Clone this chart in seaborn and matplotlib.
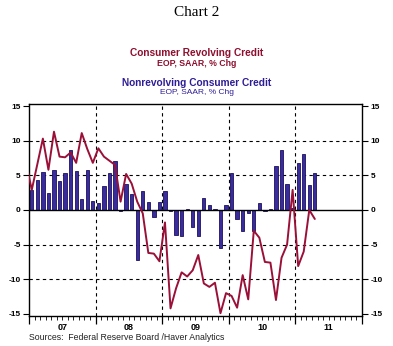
import numpy as np
import pandas as pd
import matplotlib
matplotlib.use("Agg")
import matplotlib.pyplot as plt
import matplotlib.transforms as mtransforms
import seaborn as sns

# Monthly data, Jan 2007 - Apr 2011 (bars) and Dec 2006 - Apr 2011 (line)
nonrevolving = [
    2.9, 4.3, 5.5, 2.4, 5.7, 4.2, 5.3, 8.6, 5.6, 1.6, 5.7, 1.3,       # 2007
    1.0, 3.5, 5.4, 7.0, -0.2, 3.8, 2.3, -7.2, 2.7, 1.1, -1.0, 1.1,    # 2008
    2.7, -0.2, -3.6, -3.8, 0.1, -2.5, -3.8, 1.7, 0.7, 0.1, -5.5, 0.7, # 2009
    5.4, -1.3, -3.0, -0.4, -3.0, 1.0, -0.2, 0.2, 6.3, 8.6, 3.8, 0.3,  # 2010
    6.8, 8.1, 3.6, 5.4,                                               # 2011
]
revolving = [
    6.7,                                                                 # Dec 2006
    2.9, 6.6, 10.3, 5.8, 11.3, 7.7, 7.6, 8.3, 6.8, 11.1, 8.8, 6.8,       # 2007
    8.9, 7.7, 7.1, 6.5, 1.2, 5.2, 3.8, 1.2, -0.5, -6.2, -6.3, -7.4,      # 2008
    -1.8, -14.2, -11.3, -9.0, -9.6, -8.7, -6.5, -10.6, -11.1, -10.5, -14.9, -12.0,  # 2009
    -12.4, -14.1, -9.4, -12.9, -3.0, -4.0, -7.5, -7.6, -13.0, -6.9, -5.0, 2.9,      # 2010
    -8.1, -6.0, 0.0, -1.3,                                               # 2011
]
year_labels = ["07", "08", "09", "10", "11"]
y_ticks = [-15, -10, -5, 0, 5, 10, 15]

RED = "#9A1038"
BLUE = "#3A2C9C"
BLUE_TXT = "#2E1E96"

# x positions: months since Jan 2007, plotted at the middle of each month
bar_df = pd.DataFrame({"x": np.arange(len(nonrevolving)) + 0.5, "v": nonrevolving})
line_df = pd.DataFrame({"x": np.arange(len(revolving)) - 0.5, "v": revolving})

sns.set_theme(style="white")
plt.rcParams["font.family"] = ["Liberation Sans", "DejaVu Sans"]

fig = plt.figure(figsize=(3.93, 3.46), dpi=100)
ax = fig.add_axes([29 / 393, 1 - 316 / 346, (362 - 29) / 393, (316 - 104.3) / 346])

# grid
for yv in [-10, -5, 5, 10]:
    ax.axhline(yv, color="black", lw=0.8, ls=(0, (3, 3)), zorder=1)
for xv in [12, 24, 36, 48]:
    ax.axvline(xv, color="black", lw=0.8, ls=(0, (3, 3)), zorder=1)

sns.barplot(data=bar_df, x="x", y="v", native_scale=True, width=0.6,
            color=BLUE, edgecolor="#1A1060", linewidth=0.6, saturation=1,
            ax=ax, zorder=2)
ax.axhline(0, color="black", lw=1.0, zorder=3)
sns.lineplot(data=line_df, x="x", y="v", color=RED, lw=1.4, ax=ax, zorder=4)

ax.set_xlim(0, 60)
ax.set_ylim(-15.3, 15.25)
ax.set_xlabel("")
ax.set_ylabel("")

for s in ax.spines.values():
    s.set_color("black")
    s.set_linewidth(1.0)
    s.set_visible(True)

ax.set_yticks(y_ticks)
ax.set_yticklabels([str(t) for t in y_ticks], fontsize=6, fontweight="bold")
ax.tick_params(axis="y", which="both", left=True, right=True, labelleft=True,
               labelright=True, direction="out", length=4, width=0.8, pad=2,
               colors="black")

ax.set_xticks(np.arange(0, 61, 12))
ax.set_xticks(np.arange(0, 61, 1), minor=True)
ax.set_xticklabels([])
ax.tick_params(axis="x", which="major", direction="out", length=6, width=0.9,
               bottom=True, colors="black")
ax.tick_params(axis="x", which="minor", direction="out", length=3, width=0.6,
               bottom=True, colors="black")

trans = mtransforms.blended_transform_factory(ax.transData, fig.transFigure)
for i, lab in enumerate(year_labels):
    ax.text(6 + 12 * i, 1 - 328 / 346, lab, transform=trans, ha="center",
            va="center", fontsize=6.5, fontweight="bold", color="black")

fig.text(0.5, 1 - 12 / 346, "Chart 2", ha="center", va="center",
         fontsize=11, family="Liberation Serif", color="black")
fig.text(0.5, 1 - 53.5 / 346, "Consumer Revolving Credit", ha="center",
         va="center", fontsize=7.3, fontweight="bold", color="#8E0E2E")
fig.text(0.5, 1 - 63.5 / 346, "EOP, SAAR, % Chg", ha="center", va="center",
         fontsize=6.3, fontweight="bold", color="#8E0E2E")
fig.text(0.5, 1 - 83 / 346, "Nonrevolving Consumer Credit", ha="center",
         va="center", fontsize=7.3, fontweight="bold", color=BLUE_TXT)
fig.text(0.5, 1 - 93 / 346, "EOP, SAAR, % Chg", ha="center", va="center",
         fontsize=6, color=BLUE_TXT)
fig.text(29 / 393, 1 - 337 / 346, "Sources:  Federal Reserve Board /Haver Analytics",
         ha="left", va="center", fontsize=6.3, color="#222222")

fig.savefig("out.png", dpi=100)
